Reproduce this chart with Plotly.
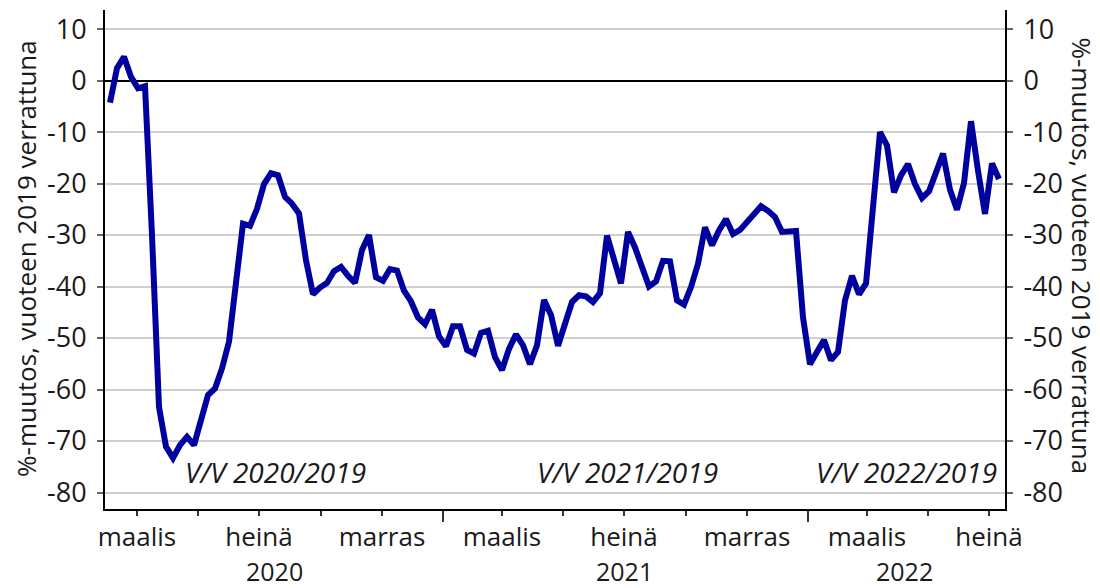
import pandas as pd
import plotly.graph_objects as go

# Weekly year-on-year change vs 2019 (%)
start_date = "2020-02-03"
values = [
    -4.3, 2.4, 4.6, 0.7, -1.5, -1.1, -30.0, -63.4, -71.1, -73.3,
    -70.8, -69.2, -70.8, -65.9, -61.1, -59.8, -55.9, -50.7, -39.5, -27.8,
    -28.2, -24.9, -20.1, -18.0, -18.4, -22.6, -23.9, -25.8, -34.9, -41.5,
    -40.2, -39.3, -37.0, -36.2, -37.9, -39.3, -32.9, -30.0, -38.2, -38.9,
    -36.6, -36.9, -40.8, -42.9, -46.0, -47.3, -44.5, -49.7, -51.6, -47.7,
    -47.7, -52.3, -53.0, -49.0, -48.6, -53.7, -56.2, -52.1, -49.3, -51.4,
    -55.1, -51.4, -42.6, -45.5, -51.5, -47.3, -43.0, -41.7, -41.9, -43.0,
    -41.3, -30.1, -35.0, -39.4, -29.4, -32.4, -36.2, -40.0, -39.0, -35.0,
    -35.1, -42.7, -43.5, -40.1, -35.6, -28.5, -32.0, -29.1, -26.9, -29.8,
    -29.0, -27.5, -26.2, -24.4, -25.3, -26.5, -29.4, -29.4, -29.2, -46.0,
    -55.1, -52.7, -50.4, -54.3, -52.7, -42.7, -37.9, -41.5, -39.4, -24.6,
    -10.0, -12.6, -21.7, -18.4, -16.2, -20.1, -22.8, -21.5, -17.8, -14.2,
    -21.2, -25.1, -19.9, -7.9, -17.5, -25.9, -16.1, -19.1,
]
dates = pd.date_range(start_date, periods=len(values), freq="7D")

x_tick_dates = ["2020-03-01", "2020-05-01", "2020-07-01", "2020-09-01", "2020-11-01",
                "2021-03-01", "2021-05-01", "2021-07-01", "2021-09-01", "2021-11-01",
                "2022-03-01", "2022-05-01", "2022-07-01"]
x_tick_labels = ["maalis", "", "heinä", "", "marras",
                 "maalis", "", "heinä", "", "marras",
                 "maalis", "", "heinä"]
year_ticks = ["2021-01-01", "2022-01-01"]
years = ["2020", "2021", "2022"]
period_labels = ["V/V 2020/2019", "V/V 2021/2019", "V/V 2022/2019"]

y_ticks = list(range(-80, 11, 10))
y_tick_text = [str(v) for v in y_ticks]
y_title = "%-muutos, vuoteen 2019 verrattuna"

FONT = "Open Sans"
TICK_FS = 27
XTICK_FS = 26
YEAR_FS = 25
TITLE_FS = 26
NOTE_FS = 28
TEXT_COLOR = "#1a1a1a"
LINE_COLOR = "#00009E"

fig = go.Figure()
fig.add_trace(go.Scatter(x=dates, y=values, mode="lines",
                         line=dict(color=LINE_COLOR, width=6), yaxis="y",
                         showlegend=False))
fig.add_trace(go.Scatter(x=dates, y=values, mode="lines",
                         line=dict(color="rgba(0,0,0,0)", width=0), yaxis="y2",
                         showlegend=False, hoverinfo="skip"))

yrange = [-83.2, 13.7]
common_y = dict(range=yrange, tickmode="array", tickvals=y_ticks, ticktext=y_tick_text,
                ticks="outside", ticklen=6, tickwidth=2, tickcolor="#666666",
                ticklabelstandoff=5,
                showline=True, linecolor="black", linewidth=2,
                tickfont=dict(family=FONT, size=TICK_FS, color=TEXT_COLOR), fixedrange=True)

# The page body has an 8px default margin, so the figure is drawn 8px smaller
fig.update_layout(
    width=1092, height=580,
    margin=dict(l=97, r=95, t=2, b=79),
    paper_bgcolor="white", plot_bgcolor="white",
    font=dict(family=FONT, size=TICK_FS, color=TEXT_COLOR),
    xaxis=dict(range=["2020-01-29", "2022-07-17"], tickmode="array",
               tickvals=x_tick_dates, ticktext=x_tick_labels,
               ticks="outside", ticklen=5, tickwidth=1.5, tickcolor="#333333",
               ticklabelstandoff=-1,
               showline=True, linecolor="black", linewidth=2, showgrid=False,
               zeroline=False,
               minor=dict(tickmode="array", tickvals=year_ticks, ticks="outside",
                          ticklen=11, tickwidth=2, tickcolor="#333333", showgrid=False),
               tickfont=dict(family=FONT, size=XTICK_FS, color=TEXT_COLOR)),
    yaxis=dict(**common_y, side="left", showgrid=True, gridcolor="#d0d0d0", gridwidth=1.5,
               zeroline=True, zerolinecolor="black", zerolinewidth=2),
    yaxis2=dict(**common_y, side="right", overlaying="y", showgrid=False, zeroline=False),
)

# Year labels centred on each year's span of data
for yr in years:
    d = dates[dates.year == int(yr)]
    mid = d[0] + (d[-1] - d[0]) / 2
    fig.add_annotation(x=mid, y=-0.1242, xref="x", yref="paper", text=yr,
                       showarrow=False, xanchor="center", yanchor="middle",
                       font=dict(family=FONT, size=YEAR_FS, color=TEXT_COLOR))

for lbl, px in zip(period_labels, [0.189, 0.58, 0.891]):
    fig.add_annotation(x=px, y=0.074, xref="paper", yref="paper", text=f"<i>{lbl}</i>",
                       showarrow=False, xanchor="center", yanchor="middle",
                       font=dict(family=FONT, size=NOTE_FS, color=TEXT_COLOR))

fig.add_annotation(x=-0.0878, y=0.503, xref="paper", yref="paper", text=y_title,
                   textangle=-90, showarrow=False, xanchor="center", yanchor="middle",
                   font=dict(family=FONT, size=TITLE_FS, color=TEXT_COLOR))
fig.add_annotation(x=1.0856, y=0.508, xref="paper", yref="paper", text=y_title,
                   textangle=90, showarrow=False, xanchor="center", yanchor="middle",
                   font=dict(family=FONT, size=TITLE_FS, color=TEXT_COLOR))

fig.write_html("out.html")
